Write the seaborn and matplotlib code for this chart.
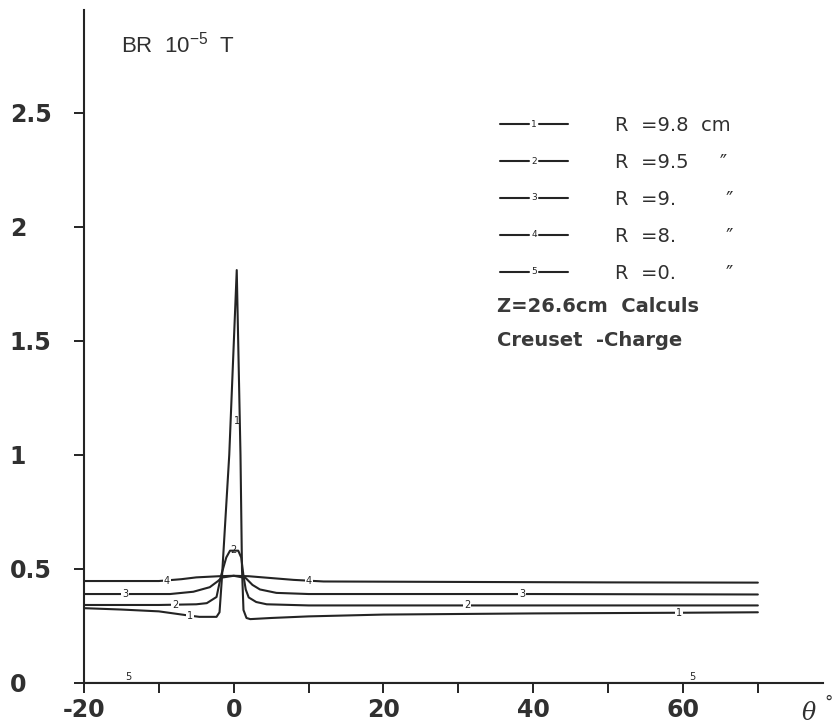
import matplotlib
matplotlib.use("Agg")
import matplotlib.pyplot as plt
import pandas as pd
import seaborn as sns
from matplotlib.legend_handler import HandlerBase
from matplotlib.lines import Line2D
from matplotlib.text import Text

# BR (10^-5 T) against theta (deg), one curve per radius
theta_1 = [-20, -15, -10, -6.5, -4.6, -2.3, -1.9, -1.6, -0.6, 0.4, 0.9, 1.1, 1.3, 1.7, 2.2, 5, 10, 20, 40, 60, 70]
br_1 = [0.328, 0.322, 0.314, 0.298, 0.29, 0.29, 0.31, 0.45, 1.0, 1.81, 1.0, 0.5, 0.32, 0.285, 0.28, 0.285, 0.292, 0.30, 0.305, 0.308, 0.31]

theta_2 = [-20, -10, -5, -3.6, -2.3, -1.7, -1.0, -0.5, 0.6, 1.0, 1.3, 1.6, 2.0, 3.0, 4.4, 10, 40, 70]
br_2 = [0.342, 0.342, 0.345, 0.35, 0.377, 0.47, 0.55, 0.58, 0.58, 0.55, 0.47, 0.41, 0.375, 0.355, 0.345, 0.34, 0.34, 0.34]

theta_3 = [-20, -8.5, -5.4, -3.2, -2.1, -1.6, 0, 1.6, 2.5, 3.5, 5.7, 10, 40, 70]
br_3 = [0.39, 0.39, 0.40, 0.42, 0.447, 0.462, 0.47, 0.46, 0.43, 0.41, 0.395, 0.39, 0.39, 0.388]

theta_4 = [-20, -10, -7, -5, -2, 0, 2, 5, 8, 12, 30, 50, 70]
br_4 = [0.447, 0.447, 0.455, 0.463, 0.468, 0.47, 0.468, 0.46, 0.452, 0.445, 0.443, 0.441, 0.44]

theta_5 = [-20, 70]
br_5 = [0.0, 0.0]

curve_ids = ["1", "2", "3", "4", "5"]
legend_labels = ["R  =9.8  cm", "R  =9.5     \u2033", "R  =9.        \u2033",
                 "R  =8.        \u2033", "R  =0.        \u2033"]

# numbers written along the curves: (text, theta, BR, white box behind)
curve_tags = [
    ("1", -5.8, 0.293, True), ("1", 0.45, 1.15, False), ("1", 59.5, 0.308, True),
    ("2", -7.8, 0.343, True), ("2", -0.1, 0.585, False), ("2", 31.2, 0.34, True),
    ("3", -14.5, 0.39, True), ("3", 38.5, 0.39, True),
    ("4", -8.9, 0.447, True), ("4", 10, 0.447, True),
    ("5", -14.1, 0.025, False), ("5", 61.2, 0.025, False),
]

xticks = list(range(-20, 71, 10))
xtick_labels = ["-20", "", "0", "", "20", "", "40", "", "60", ""]
yticks = [0, 0.5, 1, 1.5, 2, 2.5]
ytick_labels = ["0", "0.5", "1", "1.5", "2", "2.5"]

ink = "#242424"
grey = "#303030"

sns.set_theme(style="ticks")
plt.rcParams["font.family"] = ["DejaVu Sans"]


class NumberedLine(HandlerBase):
    def __init__(self, num):
        super().__init__()
        self.num = num

    def create_artists(self, legend, orig_handle, xdescent, ydescent, width, height, fontsize, trans):
        y = height / 2 - ydescent
        x0 = -xdescent
        x1 = x0 + width
        xm = (x0 + x1) / 2
        gap = 0.08 * width
        kw = dict(color=orig_handle.get_color(), lw=orig_handle.get_linewidth(), transform=trans)
        left = Line2D([x0, xm - gap], [y, y], **kw)
        right = Line2D([xm + gap, x1], [y, y], **kw)
        num = Text(xm, y, self.num, ha="center", va="center", fontsize=6.5, color=ink, transform=trans)
        return [left, right, num]


frames = []
for cid, t, b in zip(curve_ids, [theta_1, theta_2, theta_3, theta_4, theta_5],
                     [br_1, br_2, br_3, br_4, br_5]):
    frames.append(pd.DataFrame({"theta": t, "br": b, "curve": cid}))
df = pd.concat(frames, ignore_index=True)

fig = plt.figure(figsize=(8.37, 7.27), dpi=100)
ax = fig.add_axes([84 / 837, 44 / 727, 739 / 837, 673 / 727])

sns.lineplot(data=df, x="theta", y="br", hue="curve", palette={c: ink for c in curve_ids},
             estimator=None, sort=False, legend=False, linewidth=1.5, ax=ax)

for txt, tx, ty, boxed in curve_tags:
    bbox = dict(facecolor="white", edgecolor="none", pad=0.6) if boxed else None
    ax.text(tx, ty, txt, ha="center", va="center", fontsize=7, color=ink, bbox=bbox, zorder=5)

ax.set_xlim(-20, 78.7)
ax.set_ylim(0, 2.95)
ax.set_xlabel("")
ax.set_ylabel("")
ax.spines[["top", "right"]].set_visible(False)
for s in ("left", "bottom"):
    ax.spines[s].set_linewidth(1.5)
    ax.spines[s].set_color(ink)

ax.set_xticks(xticks, xtick_labels, fontsize=17, fontweight="bold", color=grey)
ax.set_yticks(yticks, ytick_labels, fontsize=17, fontweight="bold", color=grey)
ax.tick_params(direction="out", length=7.5, width=1.4, color=ink)
ax.tick_params(axis="x", pad=3)
ax.tick_params(axis="y", pad=46)
for lbl in ax.get_yticklabels():
    lbl.set_horizontalalignment("left")

handles = [Line2D([], [], color=ink, lw=1.5) for _ in curve_ids]
ax.legend(handles, legend_labels,
          handler_map={h: NumberedLine(c) for h, c in zip(handles, curve_ids)},
          loc="upper left", bbox_to_anchor=(500 / 837, 1 - 116 / 727),
          bbox_transform=fig.transFigure, frameon=False, fontsize=14,
          handlelength=3.5, handletextpad=2.4, labelspacing=0.92,
          borderpad=0, borderaxespad=0, labelcolor=grey)

fig.text(497 / 837, 1 - 306 / 727, "Z=26.6cm  Calculs", fontsize=14, fontweight="bold",
         color="#3a3a3a", va="center")
fig.text(497 / 837, 1 - 340 / 727, "Creuset  -Charge", fontsize=14, fontweight="bold",
         color="#3a3a3a", va="center")
fig.text(121 / 837, 1 - 45 / 727, r"BR  $\mathregular{10^{-5}}$  T", fontsize=16,
         family="Liberation Sans", color=grey, va="center")
fig.text(802 / 837, 1 - 713 / 727, "\u03b8", family="DejaVu Serif", style="italic",
         fontsize=17, color=grey, va="center")
fig.text(824 / 837, 1 - 703 / 727, "\u00b0", fontsize=12, color=grey, va="center")

fig.savefig("out.png", dpi=100, facecolor="white")
